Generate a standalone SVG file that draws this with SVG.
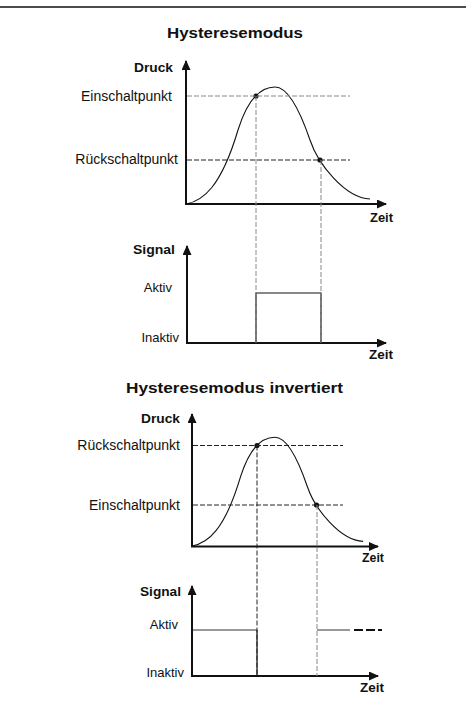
<svg xmlns="http://www.w3.org/2000/svg" width="467" height="702" viewBox="0 0 467 702">
<style>
.t{font-family:"Liberation Sans",Arial,sans-serif;fill:#111}
.b{font-weight:bold}
.r{font-size:14px;text-anchor:end}
.s{font-size:13px;text-anchor:end}
.ax{stroke:#111;stroke-width:2;fill:none;marker-end:url(#ah)}
.curve{stroke:#111;stroke-width:1.1;fill:none}
.dg{stroke:#888;stroke-width:1;stroke-dasharray:5 2;fill:none}
.dk{stroke:#222;stroke-width:1;stroke-dasharray:5 2;fill:none}
.sig{stroke:#111;stroke-width:1.2;fill:none}
</style>
<defs>
<marker id="ah" viewBox="0 0 10 9" refX="9" refY="4.5" markerWidth="10" markerHeight="9" markerUnits="userSpaceOnUse" orient="auto">
<path d="M0,0 L10,4.5 L0,9 z" fill="#111"/>
</marker>
</defs>
<rect width="467" height="702" fill="#fff"/>
<line x1="0" y1="7" x2="466" y2="7" stroke="#111" stroke-width="1.5"/>

<g id="section1-title"><text class="t b" x="235" y="38" font-size="15" text-anchor="middle" textLength="136" lengthAdjust="spacingAndGlyphs">Hysteresemodus</text></g>

<g id="section1-pressure">
<text class="t b" x="134" y="72" font-size="12" textLength="39" lengthAdjust="spacingAndGlyphs">Druck</text>
<text class="t r" x="172" y="101">Einschaltpunkt</text>
<text class="t r" x="178" y="164">Rückschaltpunkt</text>
<text class="t b" x="370" y="222" font-size="12" textLength="23" lengthAdjust="spacingAndGlyphs">Zeit</text>
<path class="curve" d="M186,204 C203,201 221,187 238,130 C249,95 263,87 275,87 C287,87 298,105 310,140 C318,164 345,198 370,199"/>
<circle cx="256" cy="96" r="2.6" fill="#111"/>
<circle cx="320" cy="160" r="2.6" fill="#111"/>
</g>

<g id="section1-signal">
<text class="t b" x="133" y="254" font-size="12" textLength="42" lengthAdjust="spacingAndGlyphs">Signal</text>
<text class="t s" x="172" y="292">Aktiv</text>
<text class="t s" x="179" y="342">Inaktiv</text>
<text class="t b" x="369" y="359" font-size="12" textLength="24" lengthAdjust="spacingAndGlyphs">Zeit</text>
<polyline class="sig" points="256,343 256,293 321,293 321,343"/>
</g>

<g id="section2-title"><text class="t b" x="234.5" y="393" font-size="15" text-anchor="middle" textLength="217" lengthAdjust="spacingAndGlyphs">Hysteresemodus invertiert</text></g>

<g id="section2-pressure">
<text class="t b" x="141" y="423" font-size="12" textLength="39" lengthAdjust="spacingAndGlyphs">Druck</text>
<text class="t r" x="180" y="450">Rückschaltpunkt</text>
<text class="t r" x="180" y="510">Einschaltpunkt</text>
<text class="t b" x="362" y="562" font-size="12" textLength="22" lengthAdjust="spacingAndGlyphs">Zeit</text>
<path class="curve" d="M192,546 C207.8,543.2 224.6,530.2 240.4,477.2 C250.6,444.6 263.6,437.2 274.8,437.2 C285.9,437.2 296.2,453.9 307.3,486.5 C314.8,508.8 339.9,540.4 363.1,541.4"/>
<circle cx="257" cy="445.5" r="2.6" fill="#111"/>
<circle cx="316.5" cy="505" r="2.6" fill="#111"/>
</g>

<g id="section2-signal">
<text class="t b" x="140" y="596" font-size="12" textLength="41" lengthAdjust="spacingAndGlyphs">Signal</text>
<text class="t s" x="178" y="629">Aktiv</text>
<text class="t s" x="184" y="677">Inaktiv</text>
<text class="t b" x="360" y="692" font-size="12" textLength="24" lengthAdjust="spacingAndGlyphs">Zeit</text>
<line x1="192" y1="630" x2="257" y2="630" stroke="#777" stroke-width="1.5"/>
<line x1="257" y1="630" x2="257" y2="676" stroke="#111" stroke-width="1.2"/>
<line x1="317" y1="630" x2="350" y2="630" stroke="#777" stroke-width="1.5"/>
<line x1="354" y1="630" x2="382" y2="630" stroke="#111" stroke-width="2" stroke-dasharray="9 3"/>
</g>

<g id="connectors">
<line class="ax" x1="186" y1="205" x2="186" y2="61"/>
<line class="ax" x1="185" y1="204" x2="386" y2="204"/>
<line class="ax" x1="187" y1="344" x2="187" y2="246"/>
<line class="ax" x1="186" y1="343" x2="386" y2="343"/>
<line class="ax" x1="192" y1="547" x2="192" y2="414"/>
<line class="ax" x1="191" y1="546.5" x2="378" y2="546.5"/>
<line class="ax" x1="192" y1="677" x2="192" y2="586"/>
<line class="ax" x1="191" y1="676" x2="378" y2="676"/>
<line class="dg" x1="187" y1="96" x2="350" y2="96"/>
<line class="dk" x1="187" y1="160" x2="350" y2="160"/>
<line class="dg" x1="256" y1="96" x2="256" y2="343"/>
<line class="dg" x1="321" y1="160" x2="321" y2="343"/>
<line class="dk" x1="193" y1="445.5" x2="343" y2="445.5"/>
<line class="dk" x1="193" y1="505" x2="343" y2="505"/>
<line class="dk" x1="257" y1="445.5" x2="257" y2="676"/>
<line class="dg" x1="317" y1="505" x2="317" y2="676"/>
</g>
</svg>
